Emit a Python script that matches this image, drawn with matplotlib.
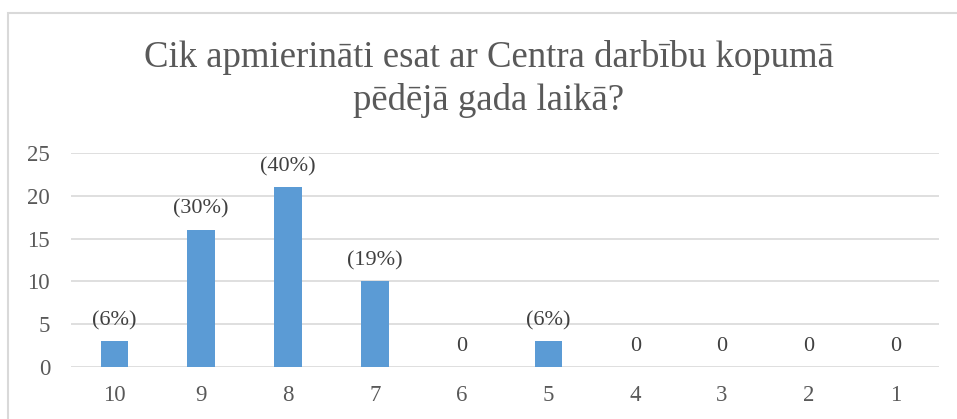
import matplotlib
matplotlib.use("Agg")
import matplotlib.pyplot as plt
from matplotlib.patches import Rectangle

categories = ["10", "9", "8", "7", "6", "5", "4", "3", "2", "1"]
counts = [3, 16, 21, 10, 0, 3, 0, 0, 0, 0]
labels = ["(6%)", "(30%)", "(40%)", "(19%)", "0", "(6%)", "0", "0", "0", "0"]
yticks = [0, 5, 10, 15, 20, 25]
title = "Cik apmierināti esat ar Centra darbību kopumā\npēdējā gada laikā?"

plt.rcParams['font.family'] = ['Liberation Serif', 'DejaVu Serif']

W, H = 957, 419
fig = plt.figure(figsize=(W / 100, H / 100), dpi=100)
fig.patch.set_facecolor("white")

# outer chart frame (cropped at right and bottom)
fig.patches.append(Rectangle((8 / W, -0.1), 1.2, 1 - 13 / H + 0.1,
                             transform=fig.transFigure, fill=False,
                             edgecolor="#D9D9D9", linewidth=1.5))

ax = fig.add_axes([71 / W, 1 - 367 / H, (939 - 71) / W, (367 - 153) / H])
x = list(range(len(categories)))
ax.bar(x, counts, width=0.32, color="#5B9BD5", zorder=3)
ax.set_xlim(-0.5, len(categories) - 0.5)
ax.set_ylim(0, 25)
ax.set_yticks(yticks)
ax.set_xticks(x)
ax.set_xticklabels(categories)
ax.grid(axis="y", color="#D9D9D9", linewidth=1.2, zorder=0)
for s in ax.spines.values():
    s.set_visible(False)
ax.tick_params(axis="both", length=0, labelsize=16.5, colors="#595959")
ax.tick_params(axis="y", pad=15)
ax.tick_params(axis="x", pad=13)

for xi, c, lab in zip(x, counts, labels):
    ax.annotate(lab, (xi, c), xytext=(0, 15), textcoords="offset points",
                ha="center", va="center", fontsize=16, color="#404040")

fig.text(489 / W, 1 - 79 / H, title, ha="center", va="center",
         fontsize=26.5, color="#595959", linespacing=1.26)

fig.savefig("out.png", dpi=100)
